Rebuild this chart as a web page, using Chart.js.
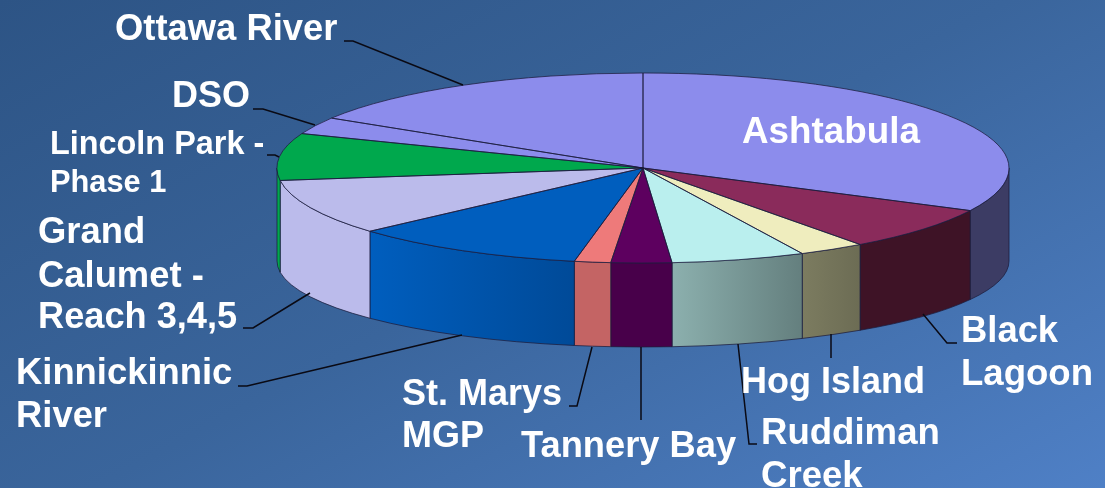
<!DOCTYPE html>
<html>
<head>
<meta charset="utf-8">
<script src="https://cdn.jsdelivr.net/npm/chart.js@4"></script>
<style>
  html, body { margin: 0; padding: 0; width: 1105px; height: 488px; overflow: hidden; }
  body { background: linear-gradient(152deg, #2d5485 0%, #3a659c 50%, #4f80c6 100%); }
  canvas { display: block; }
</style>
</head>
<body>
<canvas id="pie" width="1105" height="488"></canvas>
<script>
// values, percent of the whole pie
const CATEGORIES = ['Ashtabula', 'Black Lagoon', 'Hog Island', 'Ruddiman Creek', 'Tannery Bay',
  'St. Marys MGP', 'Kinnickinnic River', 'Grand Calumet - Reach 3,4,5', 'Lincoln Park - Phase 1', 'DSO', 'Ottawa River'];
const VALUES = [32.4, 7.5, 2.94, 5.9, 2.67, 1.6, 10.4, 9.5, 8.0, 2.9, 16.2];

const FACE_COLORS = ['#8c8cec', '#8a2b5b', '#efedbe', '#baefee', '#5d005f', '#ee7a7a', '#005ebe', '#bbbbeb', '#00a84d', '#8c8cec', '#8c8cec'];
const WALL_LEFT = ['#3c3c64', '#3e1326', '#7c7c60', '#8cb0ae', '#48004a', '#c46464', '#005ebe', '#bbbbeb', '#00a84d', '#3c3c64', '#3c3c64'];
const WALL_RIGHT = ['#3c3c64', '#3e1326', '#6c6c54', '#647f7e', '#48004a', '#c46464', '#004a98', '#bbbbeb', '#00a84d', '#3c3c64', '#3c3c64'];

// how the flat pie is laid over on its side
const CX = 643, TOP_CY = 168, RX = 366, TOP_RY = 95;
const BOTTOM_CY = 261, BOTTOM_RY = 86;
const EDGE = 'rgba(28,28,60,0.75)';

const LABELS = [
  { text: 'Ottawa River', x: 115, y: 40, size: 36.4 },
  { text: 'Ashtabula', x: 742, y: 143, size: 36.8 },
  { text: 'DSO', x: 172, y: 107, size: 36 },
  { text: 'Lincoln Park -', x: 50, y: 154, size: 32.4 },
  { text: 'Phase 1', x: 50, y: 192, size: 30.8 },
  { text: 'Grand', x: 38, y: 243, size: 36.4 },
  { text: 'Calumet -', x: 38, y: 287, size: 36.4 },
  { text: 'Reach 3,4,5', x: 38, y: 328, size: 36.2 },
  { text: 'Kinnickinnic', x: 16, y: 384, size: 36.4 },
  { text: 'River', x: 16, y: 427, size: 36.4 },
  { text: 'St. Marys', x: 402, y: 405, size: 36 },
  { text: 'MGP', x: 402, y: 447, size: 36 },
  { text: 'Tannery Bay', x: 521, y: 457, size: 36.3 },
  { text: 'Hog Island', x: 741, y: 393, size: 36 },
  { text: 'Ruddiman', x: 761, y: 444, size: 36.6 },
  { text: 'Creek', x: 761, y: 487, size: 36.6 },
  { text: 'Black', x: 961, y: 342, size: 36.4 },
  { text: 'Lagoon', x: 961, y: 385, size: 36.6 },
];

const LEADERS = [
  [[344, 41], [353, 41], [463, 85]],
  [[253, 109], [263, 109], [315, 125]],
  [[267, 155], [275, 155], [279, 157]],
  [[243, 328], [253, 328], [310, 293]],
  [[238, 386], [247, 386], [462, 335]],
  [[569, 406], [577, 406], [592, 347]],
  [[641, 347], [641, 420]],
  [[738, 344], [749, 444], [757, 444]],
  [[831, 334], [831, 358]],
  [[923, 314], [947, 343], [957, 343]],
];

function wallPath(ctx, a1, a2) {
  ctx.beginPath();
  ctx.ellipse(CX, TOP_CY, RX, TOP_RY, 0, a1, a2);
  ctx.ellipse(CX, BOTTOM_CY, RX, BOTTOM_RY, 0, a2, a1, true);
  ctx.closePath();
}

const tiltedPie = {
  id: 'tiltedPie',
  beforeDatasetsDraw(chart) {
    const ctx = chart.ctx;
    const arcs = chart.getDatasetMeta(0).data;

    // side wall, only the part of each slice on the near half
    arcs.forEach((arc, i) => {
      const a1 = Math.max(arc.startAngle, 0);
      const a2 = Math.min(arc.endAngle, Math.PI);
      if (a2 <= a1) return;
      const x1 = CX + RX * Math.cos(a1);
      const x2 = CX + RX * Math.cos(a2);
      // angles run right to left along the front
      const grad = ctx.createLinearGradient(x2, 0, x1, 0);
      grad.addColorStop(0, WALL_LEFT[i]);
      grad.addColorStop(1, WALL_RIGHT[i]);
      wallPath(ctx, a1, a2);
      ctx.fillStyle = grad;
      ctx.fill();
      ctx.strokeStyle = EDGE;
      ctx.lineWidth = 1;
      ctx.stroke();
    });

    const first = arcs[0];
    ctx.save();
    ctx.translate(CX, TOP_CY);
    ctx.scale(RX / first.outerRadius, TOP_RY / first.outerRadius);
    ctx.translate(-first.x, -first.y);
  },
  afterDatasetsDraw(chart) {
    const ctx = chart.ctx;
    ctx.restore();

    // outlines go here so they don't get squashed with the pie
    chart.getDatasetMeta(0).data.forEach(arc => {
      ctx.beginPath();
      ctx.moveTo(CX, TOP_CY);
      ctx.ellipse(CX, TOP_CY, RX, TOP_RY, 0, arc.startAngle, arc.endAngle);
      ctx.closePath();
      ctx.strokeStyle = EDGE;
      ctx.lineWidth = 1;
      ctx.stroke();
    });

    ctx.strokeStyle = '#0a0a14';
    ctx.lineWidth = 1.5;
    LEADERS.forEach(pts => {
      ctx.beginPath();
      pts.forEach((p, i) => i ? ctx.lineTo(p[0], p[1]) : ctx.moveTo(p[0], p[1]));
      ctx.stroke();
    });

    ctx.fillStyle = '#ffffff';
    ctx.textAlign = 'left';
    ctx.textBaseline = 'alphabetic';
    LABELS.forEach(l => {
      ctx.font = `bold ${l.size}px "Liberation Sans", Arial, sans-serif`;
      ctx.fillText(l.text, l.x, l.y);
    });
  },
};

new Chart(document.getElementById('pie'), {
  type: 'pie',
  data: {
    labels: CATEGORIES,
    datasets: [{
      data: VALUES,
      backgroundColor: FACE_COLORS,
      borderWidth: 0,
    }],
  },
  options: {
    responsive: false,
    animation: false,
    plugins: {
      legend: { display: false },
      tooltip: { enabled: false },
    },
  },
  plugins: [tiltedPie],
});
</script>
</body>
</html>
